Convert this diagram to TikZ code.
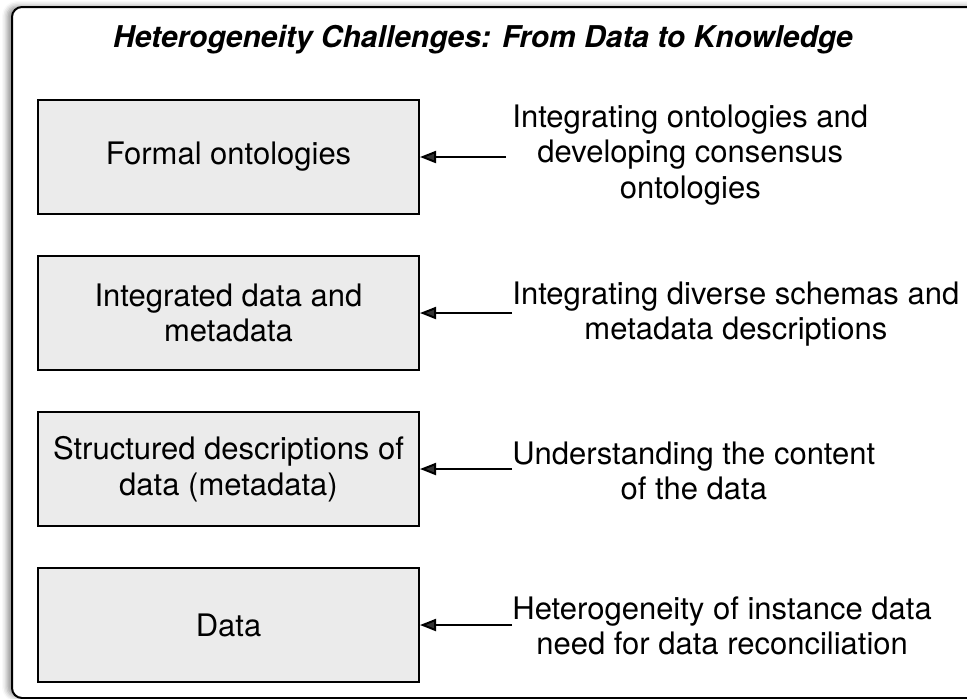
\documentclass[tikz,border=0pt]{standalone}
\usepackage{fontspec}
\setmainfont{TeX Gyre Heros}
\usetikzlibrary{positioning,arrows.meta,shadows.blur}

\definecolor{boxgray}{HTML}{EBEBEB}

\begin{document}
\begin{tikzpicture}[x=0.5pt,y=-0.5pt,
    level/.style={draw,line width=1pt,fill=boxgray,minimum width=190.5pt,
      minimum height=57pt,inner sep=0pt,align=center,
      font=\fontsize{15.5}{17.8}\selectfont},
    challenge/.style={anchor=west,align=center,inner sep=0pt,
      font=\fontsize{15.5}{17.8}\selectfont},
    feed/.style={-{Triangle[length=8pt,width=6pt]},line width=1pt}]
            \useasboundingbox (0,0) rectangle (967,698);
            \clip (0,0) rectangle (967,698);

            % outer frame
            \draw[line width=1pt,rounded corners=5pt,fill=white,
              blur shadow={shadow xshift=-2.5pt,shadow yshift=0.5pt,shadow blur radius=2.5pt}]
              (12,7) rectangle (990,698);
            \node (title) at (483,40) [font=\fontsize{15}{18}\selectfont\bfseries\itshape] {Heterogeneity Challenges: From Data to Knowledge};

            % levels
            \node (onto) at (228.5,157) [level] {Formal ontologies};
            \node (integ) at (228.5,313) [level] {Integrated data and\\metadata};
            \node (meta) at (228.5,469) [level] {Structured descriptions of\\data (metadata)};
            \node (data) at (228.5,625) [level] {Data};

            % challenges
            \node (c1) at (512,155) [challenge] {Integrating ontologies and\\developing consensus\\ontologies};
            \node (c2) at (512,314) [challenge] {Integrating diverse schemas and\\metadata descriptions};
            \node (c3) at (512,471) [challenge] {Understanding the content\\of the data};
            \node (c4) at (512,626) [challenge] {Heterogeneity of instance data\\need for data reconciliation};

            \draw[feed] ([xshift=-3pt]c1.west |- onto) -- (onto);
            \draw[feed] (c2.west |- integ) -- (integ);
            \draw[feed] (c3.west |- meta) -- (meta);
            \draw[feed] (c4.west |- data) -- (data);

        \end{tikzpicture}
\end{document}
